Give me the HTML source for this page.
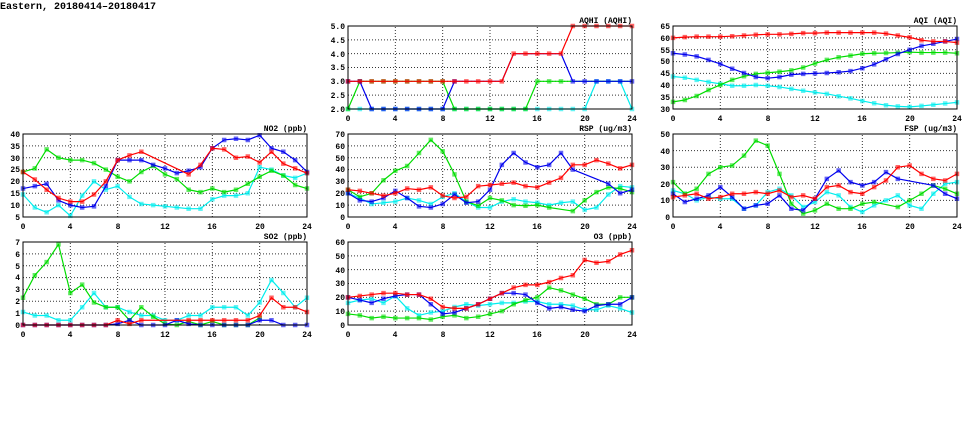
<!DOCTYPE html>
<html><head><meta charset="utf-8"><style>
html,body{margin:0;padding:0;background:#fff;width:975px;height:447px;overflow:hidden}
svg{display:block}
text{font-family:"Liberation Mono",monospace;font-weight:bold;font-size:8px;fill:#000}
.l{fill:none;stroke-width:1.2;vector-effect:non-scaling-stroke;stroke-linejoin:round}
.m{fill:none;stroke-width:4.5;stroke-linecap:square;vector-effect:non-scaling-stroke;opacity:.6}
.g{fill:none;stroke:#000;stroke-width:1;stroke-dasharray:1 2;vector-effect:non-scaling-stroke;opacity:.8}
.f{fill:none;stroke:#000;stroke-width:1}
.r{stroke:#ff0000}.b{stroke:#0000ee}.gr{stroke:#00dd00}.c{stroke:#00eeee}
.yl{text-anchor:end}.xl{text-anchor:middle}.t{text-anchor:end}
</style></head><body>
<svg width="975" height="447" viewBox="0 0 975 447" xmlns="http://www.w3.org/2000/svg">
<text x="0" y="9" style="font-size:10px">Eastern, 20180414–20180417</text>

<!-- AQHI -->
<g transform="translate(348,109) scale(11.833,-27.667) translate(0,-2)">
<path class="g" d="M4 2V5M8 2V5M12 2V5M16 2V5M20 2V5M0 2.5H24M0 3H24M0 3.5H24M0 4H24M0 4.5H24"/>
<polyline class="l c" points="0,2 1,2 2,2 3,2 4,2 5,2 6,2 7,2 8,2 9,2 10,2 11,2 12,2 13,2 14,2 15,2 16,2 17,2 18,2 19,2 20,2 21,3 22,3 23,3 24,2"/>
<path class="m c" d="M0 2h0M1 2h0M2 2h0M3 2h0M4 2h0M5 2h0M6 2h0M7 2h0M8 2h0M9 2h0M10 2h0M11 2h0M12 2h0M13 2h0M14 2h0M15 2h0M16 2h0M17 2h0M18 2h0M19 2h0M20 2h0M21 3h0M22 3h0M23 3h0M24 2h0"/>
<polyline class="l gr" points="0,2 1,3 2,3 3,3 4,3 5,3 6,3 7,3 8,3 9,2 10,2 11,2 12,2 13,2 14,2 15,2 16,3 17,3 18,3 19,3 20,3 21,3 22,3 23,3 24,3"/>
<path class="m gr" d="M0 2h0M1 3h0M2 3h0M3 3h0M4 3h0M5 3h0M6 3h0M7 3h0M8 3h0M9 2h0M10 2h0M11 2h0M12 2h0M13 2h0M14 2h0M15 2h0M16 3h0M17 3h0M18 3h0"/>
<polyline class="l b" points="0,3 1,3 2,2 3,2 4,2 5,2 6,2 7,2 8,2 9,3 10,3 11,3 12,3 13,3 14,4 15,4 16,4 17,4 18,4 19,3 20,3 21,3 22,3 23,3 24,3"/>
<path class="m b" d="M0 3h0M1 3h0M2 2h0M3 2h0M4 2h0M5 2h0M6 2h0M7 2h0M8 2h0M9 3h0M19 3h0M20 3h0M21 3h0M22 3h0M23 3h0M24 3h0"/>
<polyline class="l r" points="0,3 1,3 2,3 3,3 4,3 5,3 6,3 7,3 8,3 9,3 10,3 11,3 12,3 13,3 14,4 15,4 16,4 17,4 18,4 19,5 20,5 21,5 22,5 23,5 24,5"/>
<path class="m r" d="M0 3h0M1 3h0M2 3h0M3 3h0M4 3h0M5 3h0M6 3h0M7 3h0M8 3h0M9 3h0M10 3h0M11 3h0M12 3h0M13 3h0M14 4h0M15 4h0M16 4h0M17 4h0M18 4h0M19 5h0M20 5h0M21 5h0M22 5h0M23 5h0M24 5h0"/>
</g>
<rect class="f" x="348" y="26" width="284" height="83"/>
<text class="t" x="632" y="23">AQHI (AQHI)</text>
<g class="yl"><text x="345" y="112">2.0</text><text x="345" y="98">2.5</text><text x="345" y="84">3.0</text><text x="345" y="70">3.5</text><text x="345" y="57">4.0</text><text x="345" y="43">4.5</text><text x="345" y="29">5.0</text></g>
<g class="xl"><text x="348" y="121">0</text><text x="395" y="121">4</text><text x="443" y="121">8</text><text x="490" y="121">12</text><text x="537" y="121">16</text><text x="585" y="121">20</text><text x="632" y="121">24</text></g>

<!-- AQI -->
<g transform="translate(673,109) scale(11.833,-2.371) translate(0,-30)">
<path class="g" d="M4 30V65M8 30V65M12 30V65M16 30V65M20 30V65M0 35H24M0 40H24M0 45H24M0 50H24M0 55H24M0 60H24"/>
<polyline class="l c" points="0,43.7 1,43.2 2,42.3 3,41.4 4,40.6 5,39.8 6,39.8 7,40.1 8,39.8 9,39.3 10,38.5 11,37.7 12,37 13,36.4 14,35.4 15,34.5 16,33.4 17,32.4 18,31.6 19,31.1 20,30.9 21,31.3 22,31.8 23,32.3 24,32.8"/>
<path class="m c" d="M0 43.7h0M1 43.2h0M2 42.3h0M3 41.4h0M4 40.6h0M5 39.8h0M6 39.8h0M7 40.1h0M8 39.8h0M9 39.3h0M10 38.5h0M11 37.7h0M12 37h0M13 36.4h0M14 35.4h0M15 34.5h0M16 33.4h0M17 32.4h0M18 31.6h0M19 31.1h0M20 30.9h0M21 31.3h0M22 31.8h0M23 32.3h0M24 32.8h0"/>
<polyline class="l gr" points="0,33 1,33.8 2,35.5 3,38 4,40.2 5,42.3 6,43.8 7,44.8 8,45.3 9,45.7 10,46.3 11,47.5 12,49.2 13,50.7 14,51.8 15,52.5 16,53.3 17,53.5 18,53.6 19,53.8 20,54 21,53.8 22,53.8 23,53.8 24,53.5"/>
<path class="m gr" d="M0 33h0M1 33.8h0M2 35.5h0M3 38h0M4 40.2h0M5 42.3h0M6 43.8h0M7 44.8h0M8 45.3h0M9 45.7h0M10 46.3h0M11 47.5h0M12 49.2h0M13 50.7h0M14 51.8h0M15 52.5h0M16 53.3h0M17 53.5h0M18 53.6h0M19 53.8h0M20 54h0M21 53.8h0M22 53.8h0M23 53.8h0M24 53.5h0"/>
<polyline class="l b" points="0,53.5 1,53 2,52.2 3,50.7 4,49 5,47 6,45.2 7,43.5 8,43 9,43.5 10,44.5 11,44.8 12,45 13,45.2 14,45.5 15,46 16,47.2 17,48.8 18,51 19,53.2 20,55 21,56.6 22,57.5 23,58.5 24,59.5"/>
<path class="m b" d="M0 53.5h0M1 53h0M2 52.2h0M3 50.7h0M4 49h0M5 47h0M6 45.2h0M7 43.5h0M8 43h0M9 43.5h0M10 44.5h0M11 44.8h0M12 45h0M13 45.2h0M14 45.5h0M15 46h0M16 47.2h0M17 48.8h0M18 51h0M19 53.2h0M20 55h0M21 56.6h0M22 57.5h0M23 58.5h0M24 59.5h0"/>
<polyline class="l r" points="0,60 1,60.3 2,60.5 3,60.5 4,60.5 5,60.7 6,61 7,61.3 8,61.5 9,61.5 10,61.7 11,62 12,62 13,62.2 14,62.2 15,62.2 16,62.2 17,62.2 18,61.8 19,61 20,60.2 21,59 22,58.5 23,58.5 24,58"/>
<path class="m r" d="M0 60h0M1 60.3h0M2 60.5h0M3 60.5h0M4 60.5h0M5 60.7h0M6 61h0M7 61.3h0M8 61.5h0M9 61.5h0M10 61.7h0M11 62h0M12 62h0M13 62.2h0M14 62.2h0M15 62.2h0M16 62.2h0M17 62.2h0M18 61.8h0M19 61h0M20 60.2h0M21 59h0M22 58.5h0M23 58.5h0M24 58h0"/>
</g>
<rect class="f" x="673" y="26" width="284" height="83"/>
<text class="t" x="957" y="23">AQI (AQI)</text>
<g class="yl"><text x="670" y="112">30</text><text x="670" y="100">35</text><text x="670" y="88">40</text><text x="670" y="76">45</text><text x="670" y="64">50</text><text x="670" y="53">55</text><text x="670" y="41">60</text><text x="670" y="29">65</text></g>
<g class="xl"><text x="673" y="121">0</text><text x="720" y="121">4</text><text x="768" y="121">8</text><text x="815" y="121">12</text><text x="862" y="121">16</text><text x="910" y="121">20</text><text x="957" y="121">24</text></g>

<!-- NO2 -->
<g transform="translate(23,217) scale(11.833,-2.371) translate(0,-5)">
<path class="g" d="M4 5V40M8 5V40M12 5V40M16 5V40M20 5V40M0 10H24M0 15H24M0 20H24M0 25H24M0 30H24M0 35H24"/>
<polyline class="l c" points="0,14.5 1,9 2,7 3,10 4,5.5 5,14 6,20 7,16.5 8,18 9,13.5 10,10.5 11,10 12,9.5 13,9 14,8.5 15,8.5 16,12.5 17,14 18,14 19,15 20,26 21,25 22,22.5 23,21.5 24,23.5"/>
<path class="m c" d="M0 14.5h0M1 9h0M2 7h0M3 10h0M4 5.5h0M5 14h0M6 20h0M7 16.5h0M8 18h0M9 13.5h0M10 10.5h0M11 10h0M12 9.5h0M13 9h0M14 8.5h0M15 8.5h0M16 12.5h0M17 14h0M18 14h0M19 15h0M20 26h0M21 25h0M22 22.5h0M23 21.5h0M24 23.5h0"/>
<polyline class="l gr" points="0,24 1,25.5 2,33.5 3,30 4,29 5,29 6,27.7 7,25 8,22 9,20 10,24 11,26.5 12,23 13,21 14,16.5 15,15.5 16,17 17,15.5 18,16.5 19,19 20,22 21,24.5 22,22.5 23,18.5 24,17"/>
<path class="m gr" d="M0 24h0M1 25.5h0M2 33.5h0M3 30h0M4 29h0M5 29h0M6 27.7h0M7 25h0M8 22h0M9 20h0M10 24h0M11 26.5h0M12 23h0M13 21h0M14 16.5h0M15 15.5h0M16 17h0M17 15.5h0M18 16.5h0M19 19h0M20 22h0M21 24.5h0M22 22.5h0M23 18.5h0M24 17h0"/>
<polyline class="l b" points="0,17 1,18 2,19 3,12 4,10 5,9 6,9.5 7,18 8,29 9,29 10,29 11,27 12,25.5 13,23.5 14,24.5 15,26 16,34 17,37.5 18,38 19,37.5 20,39.5 21,34 22,32.5 23,29 24,24"/>
<path class="m b" d="M0 17h0M1 18h0M2 19h0M3 12h0M4 10h0M5 9h0M6 9.5h0M7 18h0M8 29h0M9 29h0M10 29h0M11 27h0M12 25.5h0M13 23.5h0M14 24.5h0M15 26h0M16 34h0M17 37.5h0M18 38h0M19 37.5h0M20 39.5h0M21 34h0M22 32.5h0M23 29h0M24 24h0"/>
<polyline class="l r" points="0,24 1,20.8 2,16.5 3,13 4,11.5 5,11.5 6,14.5 7,20 8,29 9,31 10,32.5 14,23 15,27 16,34 17,33.5 18,30 19,30.5 20,28 21,32.5 22,27.5 23,25.5 24,23.5"/>
<path class="m r" d="M0 24h0M1 20.8h0M2 16.5h0M3 13h0M4 11.5h0M5 11.5h0M6 14.5h0M7 20h0M8 29h0M9 31h0M10 32.5h0M14 23h0M15 27h0M16 34h0M17 33.5h0M18 30h0M19 30.5h0M20 28h0M21 32.5h0M22 27.5h0M23 25.5h0M24 23.5h0"/>
</g>
<rect class="f" x="23" y="134" width="284" height="83"/>
<text class="t" x="307" y="131">NO2 (ppb)</text>
<g class="yl"><text x="20" y="220">5</text><text x="20" y="208">10</text><text x="20" y="196">15</text><text x="20" y="184">20</text><text x="20" y="172">25</text><text x="20" y="161">30</text><text x="20" y="149">35</text><text x="20" y="137">40</text></g>
<g class="xl"><text x="23" y="229">0</text><text x="70" y="229">4</text><text x="118" y="229">8</text><text x="165" y="229">12</text><text x="212" y="229">16</text><text x="260" y="229">20</text><text x="307" y="229">24</text></g>

<!-- RSP -->
<g transform="translate(348,217) scale(11.833,-1.1857)">
<path class="g" d="M4 0V70M8 0V70M12 0V70M16 0V70M20 0V70M0 10H24M0 20H24M0 30H24M0 40H24M0 50H24M0 60H24"/>
<polyline class="l c" points="0,20 1,16 2,11 3,12 4,13 5,16 6,14 7,11 8,17 9,20 10,13 11,8 12,8 13,13 14,15 15,13 16,12 17,10 18,12 19,13 20,6 21,8 22,19 23,26 24,25"/>
<path class="m c" d="M0 20h0M1 16h0M2 11h0M3 12h0M4 13h0M5 16h0M6 14h0M7 11h0M8 17h0M9 20h0M10 13h0M11 8h0M12 8h0M13 13h0M14 15h0M15 13h0M16 12h0M17 10h0M18 12h0M19 13h0M20 6h0M21 8h0M22 19h0M23 26h0M24 25h0"/>
<polyline class="l gr" points="0,23 1,17 2,20 3,31 4,39 5,43 6,54 7,65 8,55.5 9,36 10,13 11,9.5 12,16 13,14 14,10 15,9.5 16,10 17,8 18,6.5 19,5 20,14 21,21 22,25 23,24 24,21"/>
<path class="m gr" d="M0 23h0M1 17h0M2 20h0M3 31h0M4 39h0M5 43h0M6 54h0M7 65h0M8 55.5h0M9 36h0M10 13h0M11 9.5h0M12 16h0M13 14h0M14 10h0M15 9.5h0M16 10h0M17 8h0M19 5h0M20 14h0M21 21h0M22 25h0M23 24h0M24 21h0"/>
<polyline class="l b" points="0,20 1,14 2,13 3,16 4,22 5,16 6,9 7,8 8,11 9,19 10,12 11,13 12,23 13,44 14,54 15,46 16,42 17,44 18,54 19,40 22,28 23,20 24,23"/>
<path class="m b" d="M0 20h0M1 14h0M2 13h0M3 16h0M4 22h0M5 16h0M6 9h0M7 8h0M8 11h0M9 19h0M10 12h0M11 13h0M12 23h0M13 44h0M14 54h0M15 46h0M16 42h0M17 44h0M18 54h0M19 40h0M22 28h0M23 20h0M24 23h0"/>
<polyline class="l r" points="0,23 1,22 2,20 3,18 4,20 5,24 6,23 7,25 8,18 9,16 10,17 11,26 12,27 13,28 14,29 15,26 16,25 17,29 18,33 19,44 20,44 21,48 22,45 23,41 24,44"/>
<path class="m r" d="M0 23h0M1 22h0M2 20h0M3 18h0M4 20h0M5 24h0M6 23h0M7 25h0M8 18h0M9 16h0M10 17h0M11 26h0M12 27h0M13 28h0M14 29h0M15 26h0M16 25h0M17 29h0M18 33h0M19 44h0M20 44h0M21 48h0M22 45h0M23 41h0M24 44h0"/>
</g>
<rect class="f" x="348" y="134" width="284" height="83"/>
<text class="t" x="632" y="131">RSP (ug/m3)</text>
<g class="yl"><text x="345" y="220">0</text><text x="345" y="208">10</text><text x="345" y="196">20</text><text x="345" y="184">30</text><text x="345" y="172">40</text><text x="345" y="161">50</text><text x="345" y="149">60</text><text x="345" y="137">70</text></g>
<g class="xl"><text x="348" y="229">0</text><text x="395" y="229">4</text><text x="443" y="229">8</text><text x="490" y="229">12</text><text x="537" y="229">16</text><text x="585" y="229">20</text><text x="632" y="229">24</text></g>

<!-- FSP -->
<g transform="translate(673,217) scale(11.833,-1.66)">
<path class="g" d="M4 0V50M8 0V50M12 0V50M16 0V50M20 0V50M0 10H24M0 20H24M0 30H24M0 40H24"/>
<polyline class="l c" points="0,16 1,14 2,10 3,12 4,11 5,11 6,5 7,7 8,15 9,17 10,13 11,6 12,9 13,15 14,13 15,6 16,3 17,7 18,10 19,13 20,7 21,5 22,14 23,20 24,21"/>
<path class="m c" d="M0 16h0M1 14h0M2 10h0M3 12h0M4 11h0M5 11h0M6 5h0M7 7h0M8 15h0M9 17h0M10 13h0M11 6h0M12 9h0M13 15h0M14 13h0M15 6h0M16 3h0M17 7h0M18 10h0M19 13h0M20 7h0M21 5h0M22 14h0M23 20h0M24 21h0"/>
<polyline class="l gr" points="0,21 1,14 2,17 3,26 4,30 5,31 6,37 7,46 8,43 9,26 10,8 11,2 12,4 13,8 14,5 15,5 16,8 17,9 18,7.5 19,6 20,10 21,14 22,19 23,17 24,14"/>
<path class="m gr" d="M0 21h0M1 14h0M2 17h0M3 26h0M4 30h0M5 31h0M6 37h0M7 46h0M8 43h0M9 26h0M10 8h0M11 2h0M12 4h0M13 8h0M14 5h0M15 5h0M16 8h0M17 9h0M19 6h0M20 10h0M21 14h0M22 19h0M23 17h0M24 14h0"/>
<polyline class="l b" points="0,14 1,9 2,11 3,13 4,18 5,12 6,5 7,7 8,8 9,13 10,5 11,4 12,11 13,23 14,28 15,21 16,19 17,21 18,27 19,23 22,19 23,14 24,11"/>
<path class="m b" d="M0 14h0M1 9h0M2 11h0M3 13h0M4 18h0M5 12h0M6 5h0M7 7h0M8 8h0M9 13h0M10 5h0M11 4h0M12 11h0M13 23h0M14 28h0M15 21h0M16 19h0M17 21h0M18 27h0M19 23h0M22 19h0M23 14h0M24 11h0"/>
<polyline class="l r" points="0,12 1,13 2,14 3,11 4,12 5,14 6,14 7,15 8,14 9,16 10,12 11,13 12,11 13,18 14,19 15,15 16,14 17,18 18,22 19,30 20,31 21,26 22,23 23,22 24,26"/>
<path class="m r" d="M0 12h0M1 13h0M2 14h0M3 11h0M4 12h0M5 14h0M6 14h0M7 15h0M8 14h0M9 16h0M10 12h0M11 13h0M12 11h0M13 18h0M14 19h0M15 15h0M16 14h0M17 18h0M18 22h0M19 30h0M20 31h0M21 26h0M22 23h0M23 22h0M24 26h0"/>
</g>
<rect class="f" x="673" y="134" width="284" height="83"/>
<text class="t" x="957" y="131">FSP (ug/m3)</text>
<g class="yl"><text x="670" y="220">0</text><text x="670" y="203">10</text><text x="670" y="187">20</text><text x="670" y="170">30</text><text x="670" y="154">40</text><text x="670" y="137">50</text></g>
<g class="xl"><text x="673" y="229">0</text><text x="720" y="229">4</text><text x="768" y="229">8</text><text x="815" y="229">12</text><text x="862" y="229">16</text><text x="910" y="229">20</text><text x="957" y="229">24</text></g>

<!-- SO2 -->
<g transform="translate(23,325) scale(11.833,-11.857)">
<path class="g" d="M4 0V7M8 0V7M12 0V7M16 0V7M20 0V7M0 1H24M0 2H24M0 3H24M0 4H24M0 5H24M0 6H24"/>
<polyline class="l c" points="0,1.1 1,0.8 2,0.8 3,0.4 4,0.4 5,1.5 6,2.7 7,1.5 8,1.5 9,1.1 10,0.8 11,0.8 12,0.4 13,0.4 14,0.8 15,0.8 16,1.5 17,1.5 18,1.5 19,0.8 20,1.9 21,3.8 22,2.7 23,1.5 24,2.3"/>
<path class="m c" d="M0 1.1h0M1 0.8h0M2 0.8h0M3 0.4h0M4 0.4h0M5 1.5h0M6 2.7h0M7 1.5h0M8 1.5h0M9 1.1h0M10 0.8h0M11 0.8h0M12 0.4h0M13 0.4h0M14 0.8h0M15 0.8h0M16 1.5h0M17 1.5h0M18 1.5h0M19 0.8h0M20 1.9h0M21 3.8h0M22 2.7h0M23 1.5h0M24 2.3h0"/>
<polyline class="l gr" points="0,2.3 1,4.2 2,5.3 3,6.8 4,2.7 5,3.4 6,1.9 7,1.5 8,1.5 9,0.4 10,1.5 11,0.7 12,0.1 13,0 14,0.3 15,0 16,0.3 17,0 18,0 19,0 20,0.6"/>
<path class="m gr" d="M0 2.3h0M1 4.2h0M2 5.3h0M3 6.8h0M4 2.7h0M5 3.4h0M6 1.9h0M7 1.5h0M8 1.5h0M9 0.4h0M10 1.5h0M11 0.7h0M12 0.1h0M13 0h0M14 0.3h0M15 0h0M16 0.3h0M17 0h0M18 0h0M19 0h0M20 0.6h0"/>
<polyline class="l b" points="0,0 1,0 2,0 3,0 4,0 5,0 6,0 7,0 8,0.1 9,0.4 10,0 11,0 12,0 13,0.4 14,0.1 15,0 16,0 17,0 18,0 19,0 20,0.4 21,0.4 22,0 23,0 24,0"/>
<path class="m b" d="M0 0h0M1 0h0M2 0h0M3 0h0M4 0h0M5 0h0M6 0h0M7 0h0M8 0.1h0M9 0.4h0M10 0h0M11 0h0M12 0h0M13 0.4h0M14 0.1h0M15 0h0M16 0h0M17 0h0M18 0h0M19 0h0M20 0.4h0M21 0.4h0M22 0h0M23 0h0M24 0h0"/>
<polyline class="l r" points="0,0 1,0 2,0 3,0 4,0 5,0 6,0 7,0 8,0.4 9,0.1 10,0.4 11,0.4 12,0.4 13,0.4 14,0.4 15,0.4 16,0.4 17,0.4 18,0.4 19,0.4 20,0.8 21,2.3 22,1.5 23,1.5 24,1.1"/>
<path class="m r" d="M0 0h0M1 0h0M2 0h0M3 0h0M4 0h0M5 0h0M6 0h0M7 0h0M8 0.4h0M9 0.1h0M10 0.4h0M14 0.4h0M15 0.4h0M16 0.4h0M17 0.4h0M18 0.4h0M19 0.4h0M20 0.8h0M21 2.3h0M22 1.5h0M23 1.5h0M24 1.1h0"/>
</g>
<rect class="f" x="23" y="242" width="284" height="83"/>
<text class="t" x="307" y="239">SO2 (ppb)</text>
<g class="yl"><text x="20" y="328">0</text><text x="20" y="316">1</text><text x="20" y="304">2</text><text x="20" y="292">3</text><text x="20" y="280">4</text><text x="20" y="269">5</text><text x="20" y="257">6</text><text x="20" y="245">7</text></g>
<g class="xl"><text x="23" y="337">0</text><text x="70" y="337">4</text><text x="118" y="337">8</text><text x="165" y="337">12</text><text x="212" y="337">16</text><text x="260" y="337">20</text><text x="307" y="337">24</text></g>

<!-- O3 -->
<g transform="translate(348,325) scale(11.833,-1.3833)">
<path class="g" d="M4 0V60M8 0V60M12 0V60M16 0V60M20 0V60M0 10H24M0 20H24M0 30H24M0 40H24M0 50H24"/>
<polyline class="l c" points="0,16 1,18 2,19 3,16 4,21 5,12 6,7 7,9 8,10 9,13 10,15 11,14 12,15 13,16 14,16 15,17 16,17 17,15 18,15 19,14 20,11 21,11 22,14 23,12 24,9"/>
<path class="m c" d="M0 16h0M1 18h0M2 19h0M3 16h0M4 21h0M5 12h0M6 7h0M7 9h0M8 10h0M9 13h0M10 15h0M11 14h0M12 15h0M13 16h0M14 16h0M15 17h0M16 17h0M17 15h0M18 15h0M19 14h0M20 11h0M21 11h0M22 14h0M23 12h0M24 9h0"/>
<polyline class="l gr" points="0,8 1,7 2,5 3,6 4,5 5,5 6,5 7,4 8,6 9,7 10,5 11,6 12,8 13,10 14,15 15,18 16,20 17,27 18,25 19,22 20,19 21,15 22,15 23,20 24,20"/>
<path class="m gr" d="M0 8h0M1 7h0M2 5h0M3 6h0M4 5h0M5 5h0M6 5h0M7 4h0M8 6h0M9 7h0M10 5h0M11 6h0M12 8h0M13 10h0M14 15h0M15 18h0M16 20h0M17 27h0M18 25h0M19 22h0M20 19h0M21 15h0M22 15h0M23 20h0M24 20h0"/>
<polyline class="l b" points="0,20 1,18 2,16 3,19 4,21 5,22 6,22 7,15 8,8 9,9 10,12 11,15 12,19 13,23 14,23 15,22 16,16 17,12 18,13 19,11 20,10 21,14 22,15 23,15 24,20"/>
<path class="m b" d="M0 20h0M1 18h0M2 16h0M3 19h0M4 21h0M5 22h0M6 22h0M7 15h0M8 8h0M9 9h0M10 12h0M11 15h0M12 19h0M13 23h0M14 23h0M15 22h0M16 16h0M17 12h0M18 13h0M19 11h0M20 10h0M21 14h0M22 15h0M23 15h0M24 20h0"/>
<polyline class="l r" points="0,20 1,21 2,22 3,23 4,23 5,22 6,22 7,19 8,13 9,12 10,12 11,15 12,19 13,23 14,27 15,29 16,29 17,31 18,34 19,36 20,47 21,45 22,46 23,51 24,54"/>
<path class="m r" d="M0 20h0M1 21h0M2 22h0M3 23h0M4 23h0M5 22h0M6 22h0M7 19h0M8 13h0M9 12h0M10 12h0M11 15h0M12 19h0M13 23h0M14 27h0M15 29h0M16 29h0M17 31h0M18 34h0M19 36h0M20 47h0M21 45h0M22 46h0M23 51h0M24 54h0"/>
</g>
<rect class="f" x="348" y="242" width="284" height="83"/>
<text class="t" x="632" y="239">O3 (ppb)</text>
<g class="yl"><text x="345" y="328">0</text><text x="345" y="314">10</text><text x="345" y="300">20</text><text x="345" y="286">30</text><text x="345" y="273">40</text><text x="345" y="259">50</text><text x="345" y="245">60</text></g>
<g class="xl"><text x="348" y="337">0</text><text x="395" y="337">4</text><text x="443" y="337">8</text><text x="490" y="337">12</text><text x="537" y="337">16</text><text x="585" y="337">20</text><text x="632" y="337">24</text></g>
</svg>
</body></html>
